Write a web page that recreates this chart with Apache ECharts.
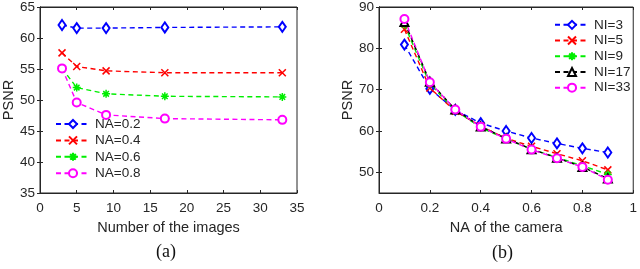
<!DOCTYPE html>
<html>
<head>
<meta charset="utf-8">
<script src="https://cdn.jsdelivr.net/npm/echarts@6/dist/echarts.min.js"></script>
<style>html,body{margin:0;padding:0;background:#fff}#c{width:640px;height:269px}</style>
</head>
<body>
<div id="c"></div>
<script>
// ---- Data: panel (a) ----
const numImages = [3, 5, 9, 17, 33];
const na02 = [62.1, 61.6, 61.6, 61.7, 61.8];
const na04 = [57.6, 55.4, 54.7, 54.4, 54.4];
const na06 = [55.1, 52.0, 51.0, 50.6, 50.5];
const na08 = [55.1, 49.6, 47.6, 47.0, 46.8];
const namesA = ['NA=0.2', 'NA=0.4', 'NA=0.6', 'NA=0.8'];

// ---- Data: panel (b) ----
const naCamera = [0.1, 0.2, 0.3, 0.4, 0.5, 0.6, 0.7, 0.8, 0.9];
const ni3  = [80.9, 70.2, 65.1, 61.9, 60.0, 58.3, 57.0, 55.8, 54.8];
const ni5  = [84.6, 70.4, 64.8, 61.2, 58.2, 56.3, 54.5, 52.8, 50.6];
const ni9  = [85.7, 71.4, 65.0, 60.8, 58.1, 55.6, 53.6, 51.6, 49.5];
const ni17 = [86.4, 71.9, 65.2, 61.1, 58.2, 55.6, 53.5, 51.3, 48.5];
const ni33 = [87.1, 71.8, 65.2, 61.0, 58.1, 55.5, 53.4, 51.3, 48.2];
const namesB = ['NI=3', 'NI=5', 'NI=9', 'NI=17', 'NI=33'];
const yTicksB = [50, 60, 70, 80, 90];

const pair = (xs, ys) => xs.map((x, i) => [x, ys[i]]);

const FONT = 'Liberation Sans';
const AX = '#262626';
const X_PATH = 'path://M0,0L10,10M10,0L0,10';
const STAR_PATH = 'path://M5,0L5,10M0,5L10,5M1.5,1.5L8.5,8.5M8.5,1.5L1.5,8.5';

function mk(name, data, color, symbol, size, xi, yi) {
  return {
    type: 'line', name, data, xAxisIndex: xi, yAxisIndex: yi,
    symbol, symbolSize: size, showSymbol: true,
    lineStyle: { color, width: 1.4, type: [5, 3.5] },
    itemStyle: { color: color, borderColor: color, borderWidth: 1.5 },
    emphasis: { disabled: true },
    animation: false
  };
}

function mainX(gi, min, max, interval, name) {
  return {
    type: 'value', gridIndex: gi, min, max, interval, position: 'bottom',
    name, nameLocation: 'middle', nameGap: 27,
    nameTextStyle: { fontFamily: FONT, fontSize: 14.5, color: AX },
    axisLine: { show: true, lineStyle: { color: AX, width: 1 } },
    axisTick: { show: true, inside: true, length: 3, lineStyle: { color: AX } },
    axisLabel: { fontFamily: FONT, fontSize: 13.5, color: AX, margin: 8 },
    splitLine: { show: false }
  };
}
function mirror(gi, pos, min, max, interval, extra) {
  return Object.assign({
    type: 'value', gridIndex: gi, min, max, interval, position: pos,
    axisLine: { show: true, lineStyle: { color: AX, width: 1 } },
    axisTick: { show: true, inside: true, length: 3, lineStyle: { color: AX } },
    axisLabel: { show: false }, splitLine: { show: false }
  }, extra || {});
}

const option = {
  backgroundColor: '#fff',
  animation: false,
  grid: [
    { left: 38, right: 343, top: 3, bottom: 76, show: true, borderColor: AX, borderWidth: 1 },
    { left: 379, right: 2, top: 4, bottom: 76, show: true, borderColor: AX, borderWidth: 1 }
  ],
  xAxis: [
    mainX(0, 0, 35, 5, 'Number of the images'),
    mainX(1, 0, 1, 0.2, 'NA of the camera'),
    mirror(0, 'top', 0, 35, 5),
    mirror(1, 'top', 0, 1, 0.2)
  ],
  yAxis: [
    {
      type: 'value', gridIndex: 0, min: 35, max: 65, interval: 5, position: 'left',
      name: 'PSNR', nameLocation: 'middle', nameGap: 24,
      nameTextStyle: { fontFamily: FONT, fontSize: 14.5, color: AX },
      axisLine: { show: true, lineStyle: { color: AX } },
      axisTick: { show: true, inside: true, length: 3, lineStyle: { color: AX } },
      axisLabel: { fontFamily: FONT, fontSize: 13.5, color: AX, margin: 5 },
      splitLine: { show: false }
    },
    {
      type: 'value', gridIndex: 1, min: 45, max: 90, position: 'left',
      name: 'PSNR', nameLocation: 'middle', nameGap: 22,
      nameTextStyle: { fontFamily: FONT, fontSize: 14.5, color: AX },
      axisLine: { show: true, lineStyle: { color: AX } },
      axisTick: { show: true, inside: true, length: 3, lineStyle: { color: AX }, customValues: yTicksB },
      axisLabel: { fontFamily: FONT, fontSize: 13.5, color: AX, margin: 5, customValues: yTicksB },
      splitLine: { show: false }
    },
    mirror(0, 'right', 35, 65, 5),
    mirror(1, 'right', 45, 90, 5, {
      axisTick: { show: true, inside: true, length: 3, lineStyle: { color: AX }, customValues: yTicksB }
    })
  ],
  legend: [
    {
      data: namesA, orient: 'vertical', left: 53, top: 114,
      itemWidth: 34, itemHeight: 10, itemGap: 0.4,
      textStyle: { fontFamily: FONT, fontSize: 13.5, color: AX, lineHeight: 16, height: 16 },
      padding: [2, 4, 2, 2], selectedMode: false
    },
    {
      data: namesB, orient: 'vertical', left: 552, top: 15,
      itemWidth: 34, itemHeight: 10, itemGap: 0,
      textStyle: { fontFamily: FONT, fontSize: 13.5, color: AX, lineHeight: 15.7, height: 15.7 },
      padding: [2, 4, 2, 2], selectedMode: false
    }
  ],
  series: [
    mk(namesA[0], pair(numImages, na02), '#0000ff', 'emptyDiamond', [7, 10], 0, 0),
    mk(namesA[1], pair(numImages, na04), '#ff0000', X_PATH, 7, 0, 0),
    mk(namesA[2], pair(numImages, na06), '#00ee00', STAR_PATH, 8, 0, 0),
    mk(namesA[3], pair(numImages, na08), '#ff00ff', 'emptyCircle', 8, 0, 0),
    mk(namesB[0], pair(naCamera, ni3), '#0000ff', 'emptyDiamond', [7, 10], 1, 1),
    mk(namesB[1], pair(naCamera, ni5), '#ff0000', X_PATH, 7, 1, 1),
    mk(namesB[2], pair(naCamera, ni9), '#00ee00', STAR_PATH, 8, 1, 1),
    mk(namesB[3], pair(naCamera, ni17), '#000000', 'emptyTriangle', 8, 1, 1),
    mk(namesB[4], pair(naCamera, ni33), '#ff00ff', 'emptyCircle', 8, 1, 1)
  ],
  graphic: [
    { type: 'text', left: 167 - 11, top: 243, style: { text: '(a)', fontFamily: 'Liberation Serif', fontSize: 18, fill: '#111' } },
    { type: 'text', left: 503 - 11, top: 244, style: { text: '(b)', fontFamily: 'Liberation Serif', fontSize: 18, fill: '#111' } }
  ]
};

const chart = echarts.init(document.getElementById('c'), null, { renderer: 'canvas' });
chart.setOption(option);
</script>
</body>
</html>
